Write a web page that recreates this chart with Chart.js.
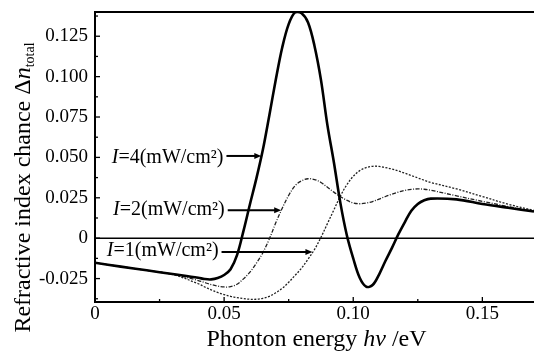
<!DOCTYPE html>
<html><head><meta charset="utf-8">
<script src="https://cdn.jsdelivr.net/npm/chart.js@4.4.0/dist/chart.umd.min.js"></script>
<style>html,body{margin:0;padding:0;background:#fff;overflow:hidden}#wrap{width:534px;height:351px;position:relative}</style>
</head><body><div id="wrap"><canvas id="c" width="534" height="351"></canvas></div>
<script>
// ---- data ----
const energy = [0, 0.01, 0.02, 0.03, 0.04, 0.0425, 0.045, 0.0475, 0.05, 0.0525, 0.055, 0.0575, 0.06, 0.0625, 0.065, 0.0675, 0.07, 0.0725, 0.075, 0.0775, 0.08, 0.0825, 0.085, 0.0875, 0.09, 0.0925, 0.095, 0.0975, 0.10, 0.1025, 0.105, 0.1075, 0.11, 0.1125, 0.115, 0.1175, 0.12, 0.1225, 0.125, 0.1275, 0.13, 0.14, 0.15, 0.16, 0.17];
const dnI4 = [-0.0152, -0.0176, -0.0199, -0.0222, -0.0245, -0.0253, -0.0255, -0.0247, -0.0228, -0.0192, -0.0105, 0.0045, 0.0210, 0.0370, 0.0547, 0.0760, 0.0980, 0.1180, 0.1325, 0.1398, 0.1392, 0.1335, 0.1190, 0.0980, 0.0700, 0.0470, 0.0220, 0.0020, -0.0125, -0.0245, -0.0300, -0.0290, -0.0225, -0.0140, -0.0060, 0.0025, 0.0100, 0.0170, 0.0212, 0.0235, 0.0245, 0.0240, 0.0212, 0.0188, 0.0165];
const dnI2 = [-0.0152, -0.0176, -0.0199, -0.0223, -0.0262, -0.0275, -0.0287, -0.0296, -0.0302, -0.0300, -0.0285, -0.0252, -0.0210, -0.0155, -0.0090, -0.0005, 0.0095, 0.0185, 0.0265, 0.0325, 0.0355, 0.0368, 0.0363, 0.0345, 0.0315, 0.0285, 0.0258, 0.0235, 0.0218, 0.0213, 0.0217, 0.0227, 0.0242, 0.0258, 0.0272, 0.0285, 0.0296, 0.0302, 0.0305, 0.0303, 0.0297, 0.0262, 0.0228, 0.0196, 0.0166];
const dnI1 = [-0.0152, -0.0176, -0.0199, -0.0224, -0.0282, -0.0302, -0.0320, -0.0336, -0.0349, -0.0360, -0.0368, -0.0374, -0.0378, -0.0378, -0.0372, -0.0360, -0.0338, -0.0310, -0.0273, -0.0230, -0.0185, -0.0130, -0.0070, 0.0005, 0.0090, 0.0175, 0.0260, 0.0330, 0.0383, 0.0418, 0.0437, 0.0445, 0.0444, 0.0437, 0.0428, 0.0416, 0.0402, 0.0388, 0.0373, 0.0358, 0.0345, 0.0305, 0.0258, 0.0210, 0.0172];
const intensities = ['4', '2', '1'];
const xTickValues = [0, 0.05, 0.10, 0.15];
const xTickLabels = ['0', '0.05', '0.10', '0.15'];
const yTickValues = [-0.025, 0, 0.025, 0.05, 0.075, 0.1, 0.125];
const yTickLabels = ['-0.025', '0', '0.025', '0.050', '0.075', '0.100', '0.125'];
// callout arrows: tip at curve, tail where the label ends (data units)
const calloutTipX = [0.0644, 0.0721, 0.0842];
const calloutTailX = [0.0509, 0.0514, 0.0490];
const calloutY = [0.0509, 0.0173, -0.0085];

// ---- styles ----
const SERIF = '"Liberation Serif", "Times New Roman", serif';
const calloutDy = [7, 4.5, 4.5];

const pts = arr => energy.map((x, i) => ({x, y: arr[i]}));

const decorPlugin = {
  id: 'decor',
  beforeDatasetsDraw(chart) {
    const {ctx, chartArea: a, scales: {y: ys}} = chart;
    ctx.save();
    const y0 = ys.getPixelForValue(0);
    ctx.strokeStyle = '#000'; ctx.lineWidth = 1.6;
    ctx.beginPath(); ctx.moveTo(a.left, y0); ctx.lineTo(a.right, y0); ctx.stroke();
    ctx.restore();
  },
  afterDraw(chart) {
    const {ctx, chartArea: a, scales: {x: xs, y: ys}} = chart;
    ctx.save();
    ctx.strokeStyle = '#000'; ctx.fillStyle = '#000';
    // top border
    ctx.lineWidth = 2;
    ctx.beginPath(); ctx.moveTo(a.left - 1, a.top); ctx.lineTo(a.right, a.top); ctx.stroke();
    // inward ticks
    ctx.lineWidth = 1.3;
    for (let i = 0; i * 0.025 <= xs.max + 1e-9; i++) {
      const px = xs.getPixelForValue(i * 0.025);
      const len = (i % 2 === 0) ? 5 : 3;
      ctx.beginPath(); ctx.moveTo(px, a.bottom); ctx.lineTo(px, a.bottom - len); ctx.stroke();
    }
    for (let i = -3; i * 0.0125 <= ys.max + 1e-9; i++) {
      const v = i * 0.0125;
      if (v < ys.min) continue;
      const py = ys.getPixelForValue(v);
      const len = (i % 2 === 0) ? 5 : 3;
      ctx.beginPath(); ctx.moveTo(a.left, py); ctx.lineTo(a.left + len, py); ctx.stroke();
    }
    // x title
    const xt = [['Phonton energy ', 'normal'], ['hν', 'italic'], [' /eV', 'normal']];
    const xfs = 24;
    let wsum = 0;
    xt.forEach(s => { ctx.font = s[1] + ' ' + xfs + 'px ' + SERIF; s.push(ctx.measureText(s[0]).width); wsum += s[2]; });
    let cx = (a.left + a.right) / 2 + 2 - wsum / 2;
    ctx.textBaseline = 'alphabetic'; ctx.textAlign = 'left';
    xt.forEach(s => { ctx.font = s[1] + ' ' + xfs + 'px ' + SERIF; ctx.fillText(s[0], cx, 346); cx += s[2]; });
    // y title (rotated)
    ctx.save();
    ctx.translate(30, 187.5);
    ctx.rotate(-Math.PI / 2);
    const yt = [['Refractive index chance Δ', 'normal', 24, 0], ['n', 'italic', 24, 0], ['total', 'normal', 14, 4]];
    wsum = 0;
    yt.forEach(s => { ctx.font = s[1] + ' ' + s[2] + 'px ' + SERIF; s.push(ctx.measureText(s[0]).width); wsum += s[4]; });
    cx = -wsum / 2;
    yt.forEach(s => { ctx.font = s[1] + ' ' + s[2] + 'px ' + SERIF; ctx.fillText(s[0], cx, s[3]); cx += s[4]; });
    ctx.restore();
    // callouts
    const afs = 20;
    intensities.forEach((lvl, k) => {
      const tip = xs.getPixelForValue(calloutTipX[k]);
      const tail = xs.getPixelForValue(calloutTailX[k]);
      const py = ys.getPixelForValue(calloutY[k]);
      ctx.lineWidth = 2;
      ctx.beginPath(); ctx.moveTo(tail, py); ctx.lineTo(tip - 5, py); ctx.stroke();
      ctx.beginPath(); ctx.moveTo(tip, py); ctx.lineTo(tip - 7, py - 3); ctx.lineTo(tip - 7, py + 3); ctx.closePath(); ctx.fill();
      ctx.font = 'italic ' + afs + 'px ' + SERIF;
      const wI = ctx.measureText('I').width;
      ctx.font = afs + 'px ' + SERIF;
      const rest = '=' + lvl + '(mW/cm²)';
      const wR = ctx.measureText(rest).width;
      const right = tail - 3;
      const by = py + calloutDy[k];
      ctx.textAlign = 'left';
      ctx.font = 'italic ' + afs + 'px ' + SERIF;
      ctx.fillText('I', right - wR - wI, by);
      ctx.font = afs + 'px ' + SERIF;
      ctx.fillText(rest, right - wR, by);
    });
    ctx.restore();
  }
};

new Chart(document.getElementById('c'), {
  type: 'line',
  data: {
    datasets: [
      {label: 'I=4(mW/cm²)', data: pts(dnI4), borderColor: '#000', borderWidth: 2.6, pointRadius: 0, tension: 0.35, fill: false},
      {label: 'I=2(mW/cm²)', data: pts(dnI2), borderColor: '#222', borderWidth: 1.3, borderDash: [4, 1.5, 1, 1.5], pointRadius: 0, tension: 0.35, fill: false},
      {label: 'I=1(mW/cm²)', data: pts(dnI1), borderColor: '#222', borderWidth: 1.3, borderDash: [2, 1.5], pointRadius: 0, tension: 0.35, fill: false}
    ]
  },
  options: {
    responsive: false,
    animation: false,
    devicePixelRatio: 1,
    layout: {padding: {top: 12, right: 0, left: 0, bottom: 0}},
    plugins: {legend: {display: false}, tooltip: {enabled: false}},
    scales: {
      x: {
        type: 'linear', min: 0, max: 0.17,
        afterFit: s => { s.height = 49; s.paddingLeft = 0; s.paddingRight = 0; },
        afterBuildTicks: s => { s.ticks = xTickValues.map(v => ({value: v})); },
        ticks: {color: '#000', padding: 1, font: {family: SERIF, size: 19}, maxRotation: 0, autoSkip: false,
          callback: (v) => { const i = xTickValues.findIndex(t => Math.abs(t - v) < 1e-9); return i >= 0 ? xTickLabels[i] : ''; }},
        grid: {display: true, drawOnChartArea: false, drawTicks: false},
        border: {display: true, color: '#000', width: 2}
      },
      y: {
        type: 'linear', min: -0.0395, max: 0.14,
        afterFit: s => { s.width = 95; s.paddingTop = 0; s.paddingBottom = 0; },
        afterBuildTicks: s => { s.ticks = yTickValues.map(v => ({value: v})); },
        ticks: {color: '#000', padding: 7, font: {family: SERIF, size: 19}, autoSkip: false,
          callback: (v) => { const i = yTickValues.findIndex(t => Math.abs(t - v) < 1e-9); return i >= 0 ? yTickLabels[i] : ''; }},
        grid: {display: true, drawOnChartArea: false, drawTicks: false},
        border: {display: true, color: '#000', width: 2}
      }
    }
  },
  plugins: [decorPlugin]
});
</script>
</body></html>
